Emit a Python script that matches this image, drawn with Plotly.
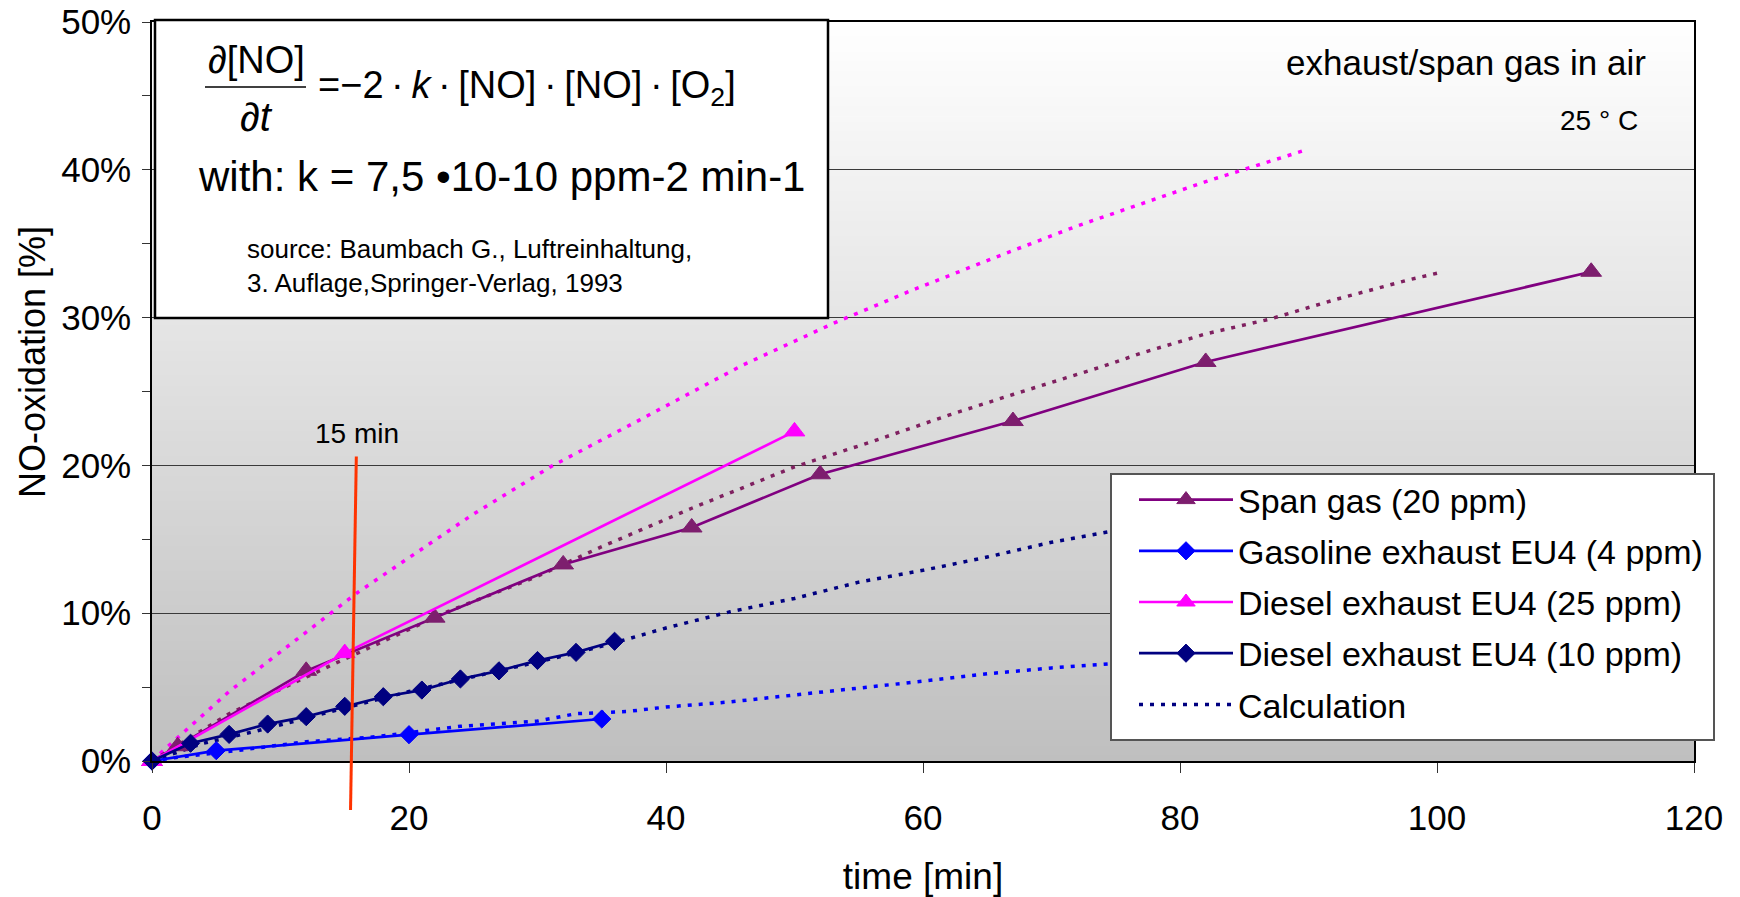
import plotly.graph_objects as go

# ---------------- data ----------------
span_t = [0, 2, 12, 22, 32, 42, 52, 67, 82, 112]
span_p = [0, 1.0, 6.1, 9.7, 13.3, 15.8, 19.4, 23.0, 27.0, 33.1]

gas_t = [0, 5, 20, 35]
gas_p = [0, 0.7, 1.78, 2.84]

d25_t = [0, 15, 50]
d25_p = [0, 7.3, 22.3]

d10_t = [0, 3, 6, 9, 12, 15, 18, 21, 24, 27, 30, 33, 36]
d10_p = [0, 1.2, 1.8, 2.5, 3.0, 3.7, 4.35, 4.8, 5.55, 6.1, 6.8, 7.35, 8.1]

calc25_t = [0, 1, 6, 12, 16, 25, 31, 38, 46, 53, 59, 66, 72, 77, 82, 86, 90]
calc25_p = [0, 0.8, 4.7, 8.7, 11.4, 16.7, 19.9, 23.1, 26.8, 29.6, 31.8, 34.2, 36.2, 37.7, 39.2, 40.3, 41.4]

calc20_t = [0, 6, 14, 23, 30, 35, 42, 50, 56, 62, 67, 74, 77, 82, 87, 92, 98, 100]
calc20_p = [0, 3.2, 6.5, 10.1, 12.5, 14.5, 17.1, 19.9, 21.6, 23.4, 24.8, 26.7, 27.6, 28.9, 29.9, 31.2, 32.6, 33.0]

calc10_t = [0, 4, 8, 12, 16, 20, 24, 28, 32, 36, 40, 45, 50, 55, 60, 65, 70, 75, 85, 100]
calc10_p = [0, 1.2, 2.0, 2.9, 3.85, 4.7, 5.5, 6.3, 7.1, 8.0, 9.0, 10.1, 11.0, 12.1, 12.9, 13.8, 14.8, 15.6, 17.1, 18.6]

calcgas_t = [0, 2, 7, 12, 17, 24, 30, 33, 37, 40, 45, 50, 56, 60, 65, 70, 75, 85, 100]
calcgas_p = [0, 0.25, 0.75, 1.3, 1.6, 2.35, 2.7, 3.2, 3.35, 3.65, 4.0, 4.45, 5.0, 5.4, 5.9, 6.3, 6.6, 7.3, 8.3]

series_names = ["Span gas (20 ppm)", "Gasoline exhaust EU4 (4 ppm)",
                "Diesel exhaust EU4 (25 ppm)", "Diesel exhaust EU4 (10 ppm)", "Calculation"]

x_ticks = [0, 20, 40, 60, 80, 100, 120]
y_ticks = [0, 10, 20, 30, 40, 50]
y_ticktext = ["0%", "10%", "20%", "30%", "40%", "50%"]

# ---------------- layout geometry (page pixels; body margin removed) ----------------
W, H = 1740, 897
PLOT_L, PLOT_R, PLOT_T, PLOT_B = 152, 1694, 22, 761
L, T = PLOT_L, PLOT_T
PW = PLOT_R - PLOT_L
PH = PLOT_B - PLOT_T
R = W - L - PW
B = H - T - PH

def px(X):
    return (X - PLOT_L) / PW

def py(Y):
    return (PLOT_B - Y) / PH

FONT = "Liberation Sans, Arial, sans-serif"
DOT = "4px,7px"
TS = "\u2009"  # thin space

fig = go.Figure()

# calculation curves (dotted)
calc_specs = [
    (calc25_t, calc25_p, "#FF00FF", False),
    (calc20_t, calc20_p, "#7F2060", False),
    (calcgas_t, calcgas_p, "#0000FF", False),
    (calc10_t, calc10_p, "#000080", True),
]
for t, p, col, show in calc_specs:
    fig.add_trace(go.Scatter(
        x=t, y=p, mode="lines", name=series_names[4],
        line=dict(color=col, width=3.5, dash=DOT),
        showlegend=show, legendgroup="g5", legendrank=5, hoverinfo="skip"))

# measured series
meas = [
    (span_t, span_p, "#800080", "#7D1E6E", "triangle-up", 18, series_names[0], 1),
    (gas_t, gas_p, "#0000FF", "#0000FF", "diamond", 14, series_names[1], 2),
    (d25_t, d25_p, "#FF00FF", "#FF00FF", "triangle-up", 18, series_names[2], 3),
    (d10_t, d10_p, "#000080", "#000080", "diamond", 14, series_names[3], 4),
]
for t, p, lc, mc, sym, sz, nm, rk in meas:
    fig.add_trace(go.Scatter(
        x=t, y=p, mode="lines+markers", name=nm,
        line=dict(color=lc, width=2.7),
        marker=dict(symbol=sym, size=sz, color=mc, line=dict(color=mc, width=1)),
        legendgroup="g%d" % rk, legendrank=rk, cliponaxis=False))

shapes = []
# gradient background of the plot area (white at top -> grey at bottom)
N = 148
for i in range(N):
    f = (i + 0.5) / N
    g = int(round(255 - f * (255 - 191)))
    shapes.append(dict(type="rect", xref="paper", yref="paper",
                       x0=0, x1=1, y0=1 - (i + 1) / N, y1=1 - i / N + 0.001,
                       fillcolor="rgb(%d,%d,%d)" % (g, g, g), line=dict(width=0),
                       layer="below"))

# formula box
shapes.append(dict(type="rect", xref="paper", yref="paper",
                   x0=px(155), x1=px(828), y0=py(318), y1=py(20),
                   fillcolor="white", line=dict(color="black", width=2.5), layer="above"))
# fraction bar
shapes.append(dict(type="line", xref="paper", yref="paper",
                   x0=px(205), x1=px(306), y0=py(87), y1=py(87),
                   line=dict(color="black", width=1.5), layer="above"))
# legend box
shapes.append(dict(type="rect", xref="paper", yref="paper",
                   x0=px(1111), x1=px(1714), y0=py(740), y1=py(474),
                   fillcolor="white", line=dict(color="#555555", width=2), layer="above"))
# 15 min marker line
shapes.append(dict(type="line", xref="paper", yref="paper",
                   x0=15.9 / 120, x1=15.45 / 120, y0=20.6 / 50, y1=py(810),
                   line=dict(color="#FF3300", width=3), layer="above"))

rhs = "=−2" + TS + "·" + TS + "<i>k</i>" + TS + "·" + TS + "[NO]" + TS + "·" + TS + \
      "[NO]" + TS + "·" + TS + "[O<sub>2</sub>]"

annotations = [
    dict(text="<i>∂</i>[NO]", x=px(256), y=py(60), font=dict(size=38)),
    dict(text="<i>∂t</i>", x=px(256), y=py(117), font=dict(size=40)),
    dict(text=rhs, x=px(316), y=py(88), xanchor="left", font=dict(size=38)),
    dict(text="with: k = 7,5 •10-10 ppm-2 min-1", x=px(196), y=py(177),
         xanchor="left", font=dict(size=42)),
    dict(text="source: Baumbach G., Luftreinhaltung,<br>3. Auflage,Springer-Verlag, 1993",
         x=px(245), y=py(266), xanchor="left", align="left", font=dict(size=26)),
    dict(text="exhaust/span gas in air", x=px(1648), y=py(63), xanchor="right",
         font=dict(size=35)),
    dict(text="25 ° C", x=px(1640), y=py(120), xanchor="right", font=dict(size=28)),
    dict(text="15 min", x=px(357), y=py(433), font=dict(size=28)),
    dict(text="NO-oxidation [%]", x=px(32), y=py(362), textangle=-90, font=dict(size=36)),
]
for a in annotations:
    a.setdefault("xanchor", "center")
    a.update(xref="paper", yref="paper", showarrow=False, yanchor="middle")
    a["font"].update(family=FONT, color="black")

fig.update_layout(
    width=W, height=H,
    margin=dict(l=L, r=R, t=T, b=B, autoexpand=False),
    paper_bgcolor="white", plot_bgcolor="rgba(0,0,0,0)",
    font=dict(family=FONT, color="black", size=34),
    shapes=shapes, annotations=annotations,
    showlegend=True,
    legend=dict(x=px(1134), y=py(471), xanchor="left", yanchor="top",
                bgcolor="rgba(0,0,0,0)", borderwidth=0,
                font=dict(family=FONT, size=34, color="black"),
                itemwidth=94, tracegroupgap=4, traceorder="grouped"),
    xaxis=dict(range=[0, 120], tickvals=x_ticks, ticks="outside", ticklen=10,
               tickcolor="#333", showgrid=False, zeroline=False,
               showline=True, linecolor="black", linewidth=1.5, mirror=True,
               tickfont=dict(size=35), ticklabelstandoff=15,
               title=dict(text="time [min]", font=dict(size=37), standoff=28)),
    yaxis=dict(range=[0, 50], tickvals=y_ticks, ticktext=y_ticktext, ticks="outside",
               ticklen=8, tickcolor="#333", showgrid=True, gridcolor="#3a3a3a",
               gridwidth=1, zeroline=False,
               showline=True, linecolor="black", linewidth=1.5, mirror=True,
               minor=dict(dtick=5, ticks="outside", ticklen=8, tickcolor="#333",
                          showgrid=False),
               tickfont=dict(size=35), ticklabelstandoff=4,
               ticklabeloverflow="allow"),
)

fig.write_html("out.html",
               config={"displayModeBar": False},
               post_script="document.body.style.margin='0px';"
                           "document.body.style.overflow='hidden';")
